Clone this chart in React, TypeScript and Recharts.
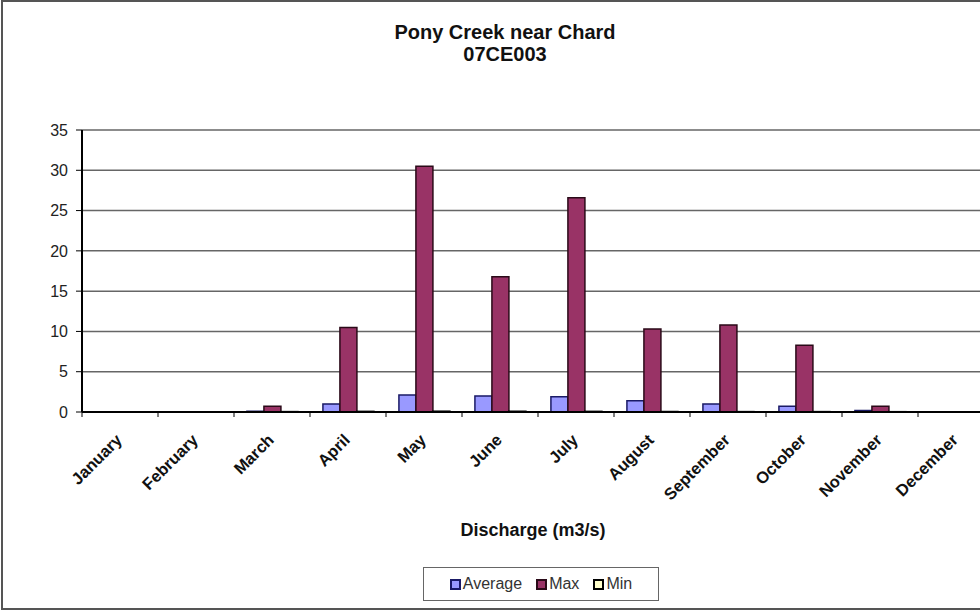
import { BarChart, Bar, XAxis, YAxis, CartesianGrid } from "recharts";

const months = [
  "January", "February", "March", "April", "May", "June",
  "July", "August", "September", "October", "November", "December",
];
const average = [0, 0, 0.1, 1.0, 2.1, 2.0, 1.9, 1.4, 1.0, 0.7, 0.2, 0];
const maximum = [0, 0, 0.7, 10.5, 30.5, 16.8, 26.6, 10.3, 10.8, 8.3, 0.7, 0];
const minimum = [0, 0, 0.05, 0.08, 0.1, 0.1, 0.08, 0.06, 0.05, 0.05, 0.04, 0];
const yTicks = [0, 5, 10, 15, 20, 25, 30, 35];

const series = [
  { key: "avg", name: "Average", fill: "#9999ff", stroke: "#1a1a66" },
  { key: "max", name: "Max", fill: "#993366", stroke: "#2a0a18" },
  { key: "min", name: "Min", fill: "#ffffcc", stroke: "#000000" },
];

const data = months.map((m, i) => ({
  month: m,
  avg: average[i],
  max: maximum[i],
  min: minimum[i],
}));

const CHART_W = 1010;
const CHART_H = 612;
const MARGIN = { top: 130, right: 16, left: 32, bottom: 0 };
const Y_W = 50;
const BAND = (CHART_W - MARGIN.left - MARGIN.right - Y_W) / months.length;
const FONT = "'Liberation Sans', Arial, sans-serif";

function MonthTick({ x, y, payload }: any) {
  const px = x + 3;
  const py = y + 29;
  return (
    <g>
      <line x1={x - BAND / 2} y1={y} x2={x - BAND / 2} y2={y + 5} stroke="#000" />
      <text
        x={px}
        y={py}
        transform={`rotate(-45, ${px}, ${py})`}
        textAnchor="end"
        fontSize={16.5}
        fontWeight="bold"
        fontFamily={FONT}
        fill="#111"
      >
        {payload.value}
      </text>
    </g>
  );
}

export default function App() {
  return (
    <div
      style={{
        position: "absolute",
        left: 0,
        top: 0,
        width: 980,
        height: 612,
        overflow: "hidden",
        background: "#fff",
        fontFamily: FONT,
      }}
    >
      <div
        style={{
          position: "absolute",
          left: 1,
          top: 0,
          width: 1200,
          height: 610,
          border: "2px solid #555",
          boxSizing: "border-box",
        }}
      />
      <div
        style={{
          position: "absolute",
          left: 0,
          top: 21,
          width: CHART_W,
          textAlign: "center",
          fontWeight: "bold",
          fontSize: 20,
          lineHeight: "22px",
          color: "#111",
        }}
      >
        <div>Pony Creek near Chard</div>
        <div>07CE003</div>
      </div>
      <div style={{ position: "absolute", left: 0, top: 0 }}>
        <BarChart
          width={CHART_W}
          height={CHART_H}
          data={data}
          margin={MARGIN}
          barCategoryGap="17%"
          barGap={0}
        >
          <CartesianGrid vertical={false} stroke="#666" strokeWidth={1.5} />
          <XAxis
            dataKey="month"
            height={200}
            interval={0}
            tick={<MonthTick />}
            tickLine={false}
            tickSize={0}
            tickMargin={0}
            axisLine={{ stroke: "#000", strokeWidth: 2 }}
            label={{
              value: "Discharge (m3/s)",
              position: "insideBottom",
              offset: 76,
              fontSize: 18,
              fontWeight: "bold",
              fontFamily: FONT,
              fill: "#111",
              dx: -5,
            }}
          />
          <YAxis
            width={Y_W}
            domain={[0, 35]}
            ticks={yTicks}
            interval={0}
            tickSize={6}
            tickMargin={8}
            tick={{ fontSize: 16, fill: "#222", fontFamily: FONT }}
            tickLine={{ stroke: "#000" }}
            axisLine={{ stroke: "#000", strokeWidth: 2 }}
          />
          {series.map((s) => (
            <Bar
              key={s.key}
              dataKey={s.key}
              name={s.name}
              fill={s.fill}
              stroke={s.stroke}
              strokeWidth={1.5}
              isAnimationActive={false}
            />
          ))}
        </BarChart>
      </div>
      <div
        style={{
          position: "absolute",
          left: 423,
          top: 567,
          width: 236,
          height: 34,
          border: "1.5px solid #666",
          boxSizing: "border-box",
          display: "flex",
          alignItems: "center",
          justifyContent: "center",
          gap: 14,
          fontSize: 16,
          color: "#333",
        }}
      >
        {series.map((s) => (
          <span key={s.key} style={{ display: "flex", alignItems: "center" }}>
            <span
              style={{
                display: "inline-block",
                width: 7,
                height: 7,
                background: s.fill,
                border: `2px solid ${s.stroke}`,
                marginRight: 2,
              }}
            />
            {s.name}
          </span>
        ))}
      </div>
    </div>
  );
}
